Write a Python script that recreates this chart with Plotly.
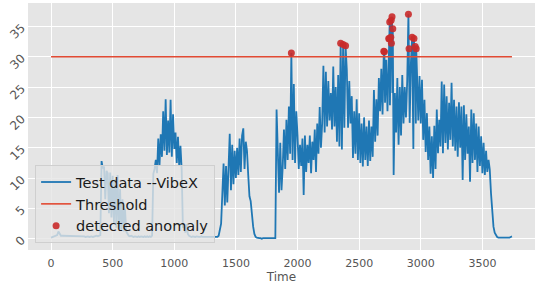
import plotly.graph_objects as go

threshold = 30.0
step = 10

# coarse samples of the VibeX test signal, one every 10 time steps (0..3740)
vibex = [
    0.2, 0.3, 0.3, 0.4, 0.5, 0.6, 1.2, 0.7, 0.5, 0.5,
    0.5, 0.4, 0.5, 0.4, 0.5, 0.5, 0.4, 0.5, 0.4, 0.5,
    0.4, 0.5, 0.4, 0.5, 0.5, 0.4, 0.5, 0.4, 0.3, 0.4,
    0.4, 0.3, 0.4, 0.4, 0.3, 0.4, 0.4, 0.5, 0.4, 0.5,
    0.6, 12.8, 11.6, 11.9, 6.5, 11.2, 10.8, 4.2, 10.9, 3.5,
    10.4, 2.5, 9.8, 1.8, 10.5, 1.6, 8.2, 1.5, 6.5, 1.2,
    5.0, 1.2, 0.8, 0.5, 0.4, 0.5, 0.4, 0.3, 0.4, 0.3,
    0.3, 0.4, 0.3, 0.4, 0.3, 0.3, 0.4, 0.3, 0.4, 0.3,
    0.4, 0.3, 0.5, 10.7, 11.5, 13.0, 10.8, 16.5, 12.0, 17.2,
    13.5, 21.0, 14.5, 23.0, 13.8, 19.5, 14.2, 22.9, 13.5, 20.5,
    14.8, 17.5, 12.5, 16.8, 12.0, 15.3, 11.4, 1.8, 2.5, 1.0,
    2.4, 0.8, 0.5, 0.4, 0.3, 0.4, 0.3, 0.3, 0.4, 0.3,
    0.3, 0.3, 0.4, 0.3, 0.3, 0.3, 0.4, 0.3, 0.3, 0.3,
    0.3, 0.3, 0.3, 0.4, 0.3, 0.3, 0.5, 1.6, 2.5, 7.5,
    12.4, 5.5, 12.0, 6.0, 13.5, 17.3, 8.0, 15.5, 9.0, 14.5,
    10.0, 15.0, 10.5, 16.5, 11.0, 17.0, 18.2, 11.5, 16.0, 14.5,
    10.5, 7.0, 6.2, 3.7, 2.0, 0.8, 0.3, 0.2, 0.1, 0.1,
    0.1, 0.0, 0.1, 0.1, 0.0, 0.1, 0.1, 0.0, 0.1, 0.1,
    0.1, 0.0, 0.1, 21.3, 12.0, 7.6, 15.8, 8.0, 11.9, 18.0,
    11.5, 19.6, 13.0, 21.8, 14.0, 30.6, 13.0, 25.5, 12.5, 21.0,
    17.0, 11.5, 15.5, 12.0, 16.5, 7.2, 17.0, 11.0, 15.5, 12.5,
    17.0, 10.8, 16.0, 13.0, 18.0, 11.0, 19.0, 14.0, 21.7, 15.0,
    19.0, 28.5, 17.5, 27.5, 18.5, 26.0, 19.5, 24.0, 18.0, 28.4,
    18.5, 25.0, 16.0, 27.0, 15.2, 32.2, 14.7, 32.0, 18.3, 31.8,
    27.8, 18.3, 26.0, 19.0, 23.5, 13.3, 21.0, 14.0, 23.0, 13.0,
    20.7, 12.5, 19.0, 11.9, 20.0, 13.0, 18.5, 12.0, 19.5, 12.8,
    18.5, 13.5, 24.5, 16.0, 23.0, 17.0, 26.5, 21.0, 28.0, 20.5,
    30.9, 22.4, 29.5, 21.0, 33.0, 22.0, 36.0, 24.0, 10.5, 24.0,
    17.5, 26.5, 15.5, 25.0, 17.0, 27.0, 19.0, 25.0, 20.0, 26.0,
    37.0, 19.1, 29.0, 33.2, 14.8, 28.4, 19.0, 27.0, 19.5, 26.8,
    19.0, 26.2, 16.3, 22.9, 14.3, 20.7, 13.0, 18.5, 10.7, 16.9,
    10.0, 18.6, 11.5, 21.3, 14.1, 19.6, 15.2, 25.9, 14.1, 25.4,
    15.8, 23.5, 14.7, 22.4, 16.3, 25.7, 15.2, 22.9, 14.5, 21.8,
    13.5, 22.5, 15.0, 21.8, 9.7, 22.0, 13.0, 20.5, 14.0, 18.5,
    9.4, 21.3, 12.5, 20.7, 13.0, 19.0, 11.0, 18.5, 12.0, 16.9,
    10.8, 15.8, 10.5, 14.5, 11.0, 13.0, 11.4, 7.5, 4.0, 2.0,
    1.0, 0.5, 0.3, 0.2, 0.2, 0.2, 0.2, 0.2, 0.1, 0.2,
    0.2, 0.2, 0.2, 0.3, 0.4,
]
vibex_time = list(range(0, step * len(vibex), step))

# extra samples read around the peaks
peak_time = [2705, 2745, 2748, 2757, 2762, 2767, 2773, 2905, 2945, 2955, 2963]
peak_value = [30.8, 32.9, 35.7, 33.2, 32.2, 36.6, 34.6, 31.3, 33.0, 31.7, 31.3]

x_ticks = [0, 500, 1000, 1500, 2000, 2500, 3000, 3500]
y_ticks = [0, 5, 10, 15, 20, 25, 30, 35]

merged = sorted(zip(vibex_time + peak_time, vibex + peak_value))
t_all = [m[0] for m in merged]
v_all = [m[1] for m in merged]
anom_t = [t for t, v in merged if v > threshold]
anom_v = [v for t, v in merged if v > threshold]

fig = go.Figure()
fig.add_trace(go.Scatter(x=t_all, y=v_all, mode="lines", name="Test data --VibeX",
                         line=dict(color="#1f77b4", width=1.8)))
fig.add_trace(go.Scatter(x=[t_all[0], t_all[-1]], y=[threshold, threshold], mode="lines",
                         name="Threshold", line=dict(color="#E24A33", width=1.6)))
fig.add_trace(go.Scatter(x=anom_t, y=anom_v, mode="markers", name="detected anomaly",
                         marker=dict(color="#c92a2a", size=7, opacity=0.9)))

xspan = t_all[-1] - t_all[0]
ymax = max(v_all)
ymin = min(v_all)
yspan = ymax - ymin

fig.update_layout(
    width=546, height=289,
    margin=dict(l=28, r=11, t=3, b=39),
    paper_bgcolor="white", plot_bgcolor="#E5E5E5",
    font=dict(family="DejaVu Sans", color="#555555", size=11),
    showlegend=True, hovermode=False,
    legend=dict(x=0.014, y=0.028, xanchor="left", yanchor="bottom",
                bgcolor="rgba(229,229,229,0.8)", bordercolor="#cfcfcf", borderwidth=1,
                font=dict(size=14.5, color="#1a1a1a"), tracegroupgap=0),
    xaxis=dict(range=[t_all[0] - 0.05 * xspan, t_all[-1] + 0.05 * xspan],
               tickvals=x_ticks, showgrid=True, gridcolor="white", gridwidth=1,
               zeroline=False, showline=False, ticks="outside", ticklen=3,
               tickcolor="rgba(0,0,0,0)", automargin=False,
               title=dict(text="Time", font=dict(size=12, color="#555555"), standoff=2)),
    yaxis=dict(range=[ymin - 0.05 * yspan, ymax + 0.05 * yspan],
               tickvals=y_ticks, tickangle=-45, showgrid=True, gridcolor="white",
               gridwidth=1, zeroline=False, showline=False, ticks="outside", ticklen=3,
               tickcolor="rgba(0,0,0,0)", automargin=False,
               tickfont=dict(size=12)),
)

fig.write_html("out.html", config={"displayModeBar": False},
               post_script="document.body.style.margin='0';document.body.style.overflow='hidden';")
